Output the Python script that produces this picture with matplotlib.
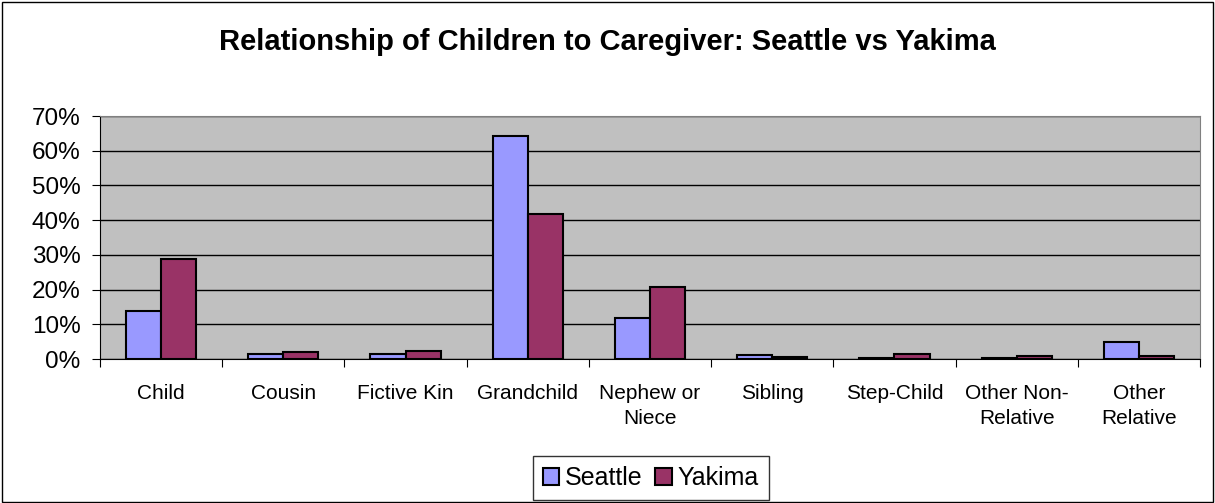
import matplotlib
matplotlib.use("Agg")
import matplotlib.pyplot as plt
import numpy as np
from matplotlib.ticker import PercentFormatter

categories = ["Child", "Cousin", "Fictive Kin", "Grandchild", "Nephew or\nNiece",
              "Sibling", "Step-Child", "Other Non-\nRelative", "Other\nRelative"]
seattle = [13.7, 1.5, 1.5, 64.2, 11.9, 1.2, 0.3, 0.3, 4.9]
yakima = [28.7, 1.9, 2.2, 41.7, 20.7, 0.7, 1.5, 1.0, 1.0]
yticks = [0, 10, 20, 30, 40, 50, 60, 70]

plt.rcParams['font.family'] = ['Liberation Sans', 'DejaVu Sans']

fig = plt.figure(figsize=(12.15, 5.03), dpi=100)
fig.patch.set_facecolor("white")
border = plt.Rectangle((0.0015, 0.002), 0.997, 0.995, transform=fig.transFigure,
                       fill=False, edgecolor="black", linewidth=1)
fig.add_artist(border)

ax = fig.add_axes([100/1215, 1-359/503, 1100/1215, 243/503])
ax.set_facecolor("#c0c0c0")
x = np.arange(len(categories))
w = 0.287
ax.bar(x - w/2, seattle, w, color="#9999ff", edgecolor="black", linewidth=1.5, label="Seattle", zorder=3)
ax.bar(x + w/2, yakima, w, color="#993366", edgecolor="black", linewidth=1.5, label="Yakima", zorder=3)
ax.set_xlim(-0.5, len(categories) - 0.5)
ax.set_ylim(0, 70)
ax.set_yticks(yticks)
ax.yaxis.set_major_formatter(PercentFormatter(decimals=0))
ax.grid(axis="y", color="black", linewidth=1, zorder=1)
ax.set_xticks(np.arange(len(categories) + 1) - 0.5, minor=False)
ax.set_xticklabels([])
ax.set_xticks(x, minor=True)
ax.set_xticklabels(categories, minor=True, fontsize=15, linespacing=1.4)
ax.tick_params(axis="x", which="minor", length=0, pad=18)
ax.tick_params(axis="x", which="major", length=6, direction="out")
ax.tick_params(axis="y", length=6, direction="out", labelsize=17.5, pad=8)
for s in ["top", "right"]:
    ax.spines[s].set_color("#808080")
ax.spines["left"].set_color("black")
ax.spines["bottom"].set_color("black")

fig.text(0.5, 1-42/503, "Relationship of Children to Caregiver: Seattle vs Yakima",
         ha="center", va="center", fontsize=21, fontweight="bold")

leg = fig.legend(loc="center", bbox_to_anchor=(651/1215, 1-478/503), ncol=2,
                 fontsize=18, frameon=True, fancybox=False, edgecolor="black",
                 handlelength=0.65, handleheight=0.65, handletextpad=0.25, columnspacing=0.5,
                 borderpad=0.4, borderaxespad=0)
leg.get_frame().set_linewidth(1)

fig.savefig("out.png", dpi=100)
